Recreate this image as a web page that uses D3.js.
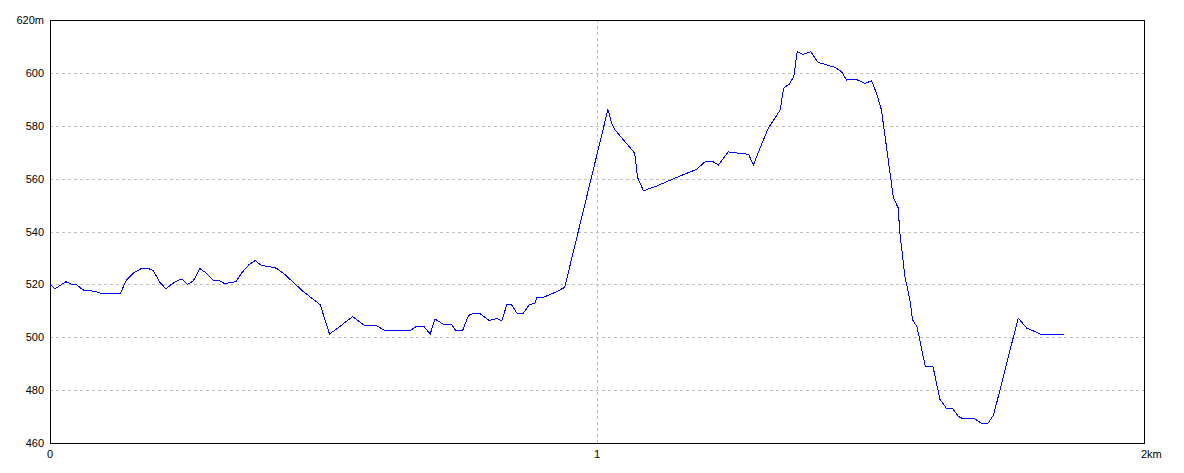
<!DOCTYPE html>
<html><head><meta charset="utf-8">
<script src="https://cdn.jsdelivr.net/npm/d3@7"></script>
<style>body{margin:0;background:#fff}svg{display:block}text{font-family:"Liberation Sans",Arial,sans-serif;font-size:11px;fill:#000}</style>
</head><body>
<svg id="c" width="1184" height="473"></svg>
<script>
const distances = [0,0.009,0.029,0.040,0.048,0.060,0.073,0.085,0.097,0.128,0.140,0.152,0.168,0.180,0.189,0.200,0.212,0.222,0.232,0.241,0.251,0.262,0.274,0.286,0.300,0.311,0.320,0.329,0.340,0.350,0.363,0.375,0.387,0.402,0.414,0.430,0.445,0.463,0.481,0.494,0.511,0.530,0.553,0.576,0.597,0.614,0.658,0.669,0.684,0.695,0.704,0.718,0.734,0.742,0.754,0.765,0.773,0.786,0.803,0.817,0.826,0.835,0.844,0.854,0.865,0.876,0.887,0.890,0.902,0.926,0.941,1.020,1.027,1.033,1.069,1.074,1.085,1.109,1.152,1.182,1.197,1.213,1.222,1.240,1.252,1.277,1.286,1.298,1.313,1.335,1.341,1.352,1.360,1.366,1.377,1.391,1.404,1.420,1.435,1.447,1.456,1.472,1.490,1.502,1.511,1.520,1.530,1.537,1.542,1.551,1.553,1.557,1.563,1.572,1.577,1.585,1.590,1.600,1.614,1.627,1.639,1.650,1.661,1.670,1.691,1.705,1.714,1.725,1.770,1.786,1.801,1.810,1.854];
const elevations = [520,518.3,521,520,520,517.9,517.6,517.2,516.4,516.4,521.7,524.2,526.1,526,525.2,521,518.3,520,521.3,522,520,521.3,526,524.2,521.3,521.3,520.2,520.7,521,524.2,527.3,529,527.1,526.7,526.1,523.6,520.7,517.3,514.4,512.3,501.2,504.1,507.8,504.3,504.3,502.4,502.4,504,504,501.2,506.9,505,505,502.4,502.4,508.2,509,509,506.3,507.1,506.2,512.2,512.2,509,509,512.2,513,515.1,515.1,517.2,518.9,586.2,580.9,578.4,569.6,560.5,555.4,557.2,561,563.5,566.3,566.3,565.2,570.1,569.8,569.2,565.2,571.5,579,586,594.2,595.8,598.8,608,607,608,604,603,602.1,600.5,597.3,597.7,596,597,592.3,586,570.8,560.1,552.6,548.8,540.6,533.6,522.9,514.1,506.5,504,499,489.1,489.1,476.5,473.1,473.1,470,469.1,469.1,467.2,467.2,470.6,507.2,503.4,502.1,501.2,501.2];
const yTicks = [460,480,500,520,540,560,580,600,620];
const yTickLabels = ["460","480","500","520","540","560","580","600","620m"];
const xTicks = [0,1,2];
const xTickLabels = ["0","1","2km"];

const svg = d3.select("#c");
const L = 50, R = 1144, T = 20, B = 443;
const x = d3.scaleLinear().domain([0,2]).range([L,R]);
const y = d3.scaleLinear().domain([460,620]).range([B,T]);

// grid
svg.append("g").selectAll("line").data(yTicks.filter(v=>v>460&&v<620)).join("line")
  .attr("x1",L).attr("x2",R).attr("y1",d=>y(d)+0.5).attr("y2",d=>y(d)+0.5)
  .attr("stroke","#c0c0c0").attr("stroke-dasharray","3,3").attr("shape-rendering","crispEdges");
svg.append("g").selectAll("line").data(xTicks.filter(v=>v>0&&v<2)).join("line")
  .attr("x1",d=>x(d)+0.5).attr("x2",d=>x(d)+0.5).attr("y1",T).attr("y2",B)
  .attr("stroke","#c0c0c0").attr("stroke-dasharray","3,3").attr("shape-rendering","crispEdges");

// frame
svg.append("rect").attr("x",L+0.5).attr("y",T+0.5).attr("width",R-L).attr("height",B-T)
  .attr("fill","none").attr("stroke","#000").attr("shape-rendering","crispEdges");

// y labels
svg.append("g").selectAll("text").data(yTicks).join("text")
  .attr("x",L-6).attr("y",d=>y(d)+4).attr("text-anchor","end").text((d,i)=>yTickLabels[i]);
// x labels
svg.append("g").selectAll("text").data(xTicks).join("text")
  .attr("x",(d,i)=> i===2 ? x(d)-3 : x(d)).attr("y",B+15)
  .attr("text-anchor",(d,i)=> i===2 ? "start" : "middle").text((d,i)=>xTickLabels[i]);

// line
const pts = distances.map((d,i)=>[d,elevations[i]]);
svg.append("path").datum(pts).attr("fill","none").attr("stroke","#0000ff").attr("stroke-width",1)
  .attr("shape-rendering","crispEdges")
  .attr("d", d3.line().x(d=>x(d[0])).y(d=>y(d[1])));
</script>
</body></html>
